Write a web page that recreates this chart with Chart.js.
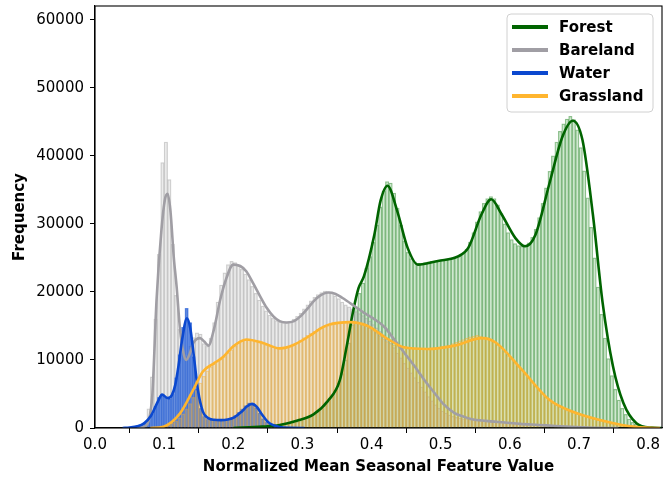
<!DOCTYPE html>
<html>
<head>
<meta charset="utf-8">
<script src="https://cdn.jsdelivr.net/npm/chart.js@4.4.1/dist/chart.umd.min.js"></script>
<style>
  body { margin: 0; background: #fff; }
  canvas { display: block; }
</style>
</head>
<body>
<canvas id="myHistChart" width="672" height="481"></canvas>
<script>
// histogram bins (counts per bin), bin width shared by all classes
const binWidth = 0.005

const waterStart = 0.04
const waterHist = [20, 50, 100, 180, 300, 500, 800, 1300, 2100, 3200, 4500, 5000, 4500, 4300, 5000, 7400, 10800, 14800, 17600, 15500,
    10500, 5800, 2900, 1700, 1300, 1200, 1150, 1150, 1200, 1250, 1350, 1550, 1850, 2300, 2800, 3300, 3700, 3600, 3000, 2200,
    1400, 900, 550, 300, 180, 100, 60, 30, 20, 10, 5, 0]

const barelandStart = 0.06
const barelandHist = [50, 200, 700, 2800, 7500, 16000, 25500, 39000, 42000, 36500, 27000, 19500, 14500, 11000, 10500, 12000, 13300, 14000, 13800, 12400,
    12000, 13200, 15500, 18500, 21000, 22800, 24000, 24500, 24300, 23800, 23300, 22600, 21800, 20800, 19800, 18800, 17900, 17200, 16600, 16100,
    15800, 15600, 15500, 15500, 15700, 16000, 16400, 16900, 17500, 18100, 18700, 19200, 19600, 19900, 20100, 20000, 19800, 19400, 19000, 18500,
    18100, 17800, 17500, 17100, 16800, 16500, 16100, 15700, 15200, 14700, 14200, 13700, 13100, 12500, 11800, 11000, 10300, 9500, 8800, 8100,
    7400, 6700, 6000, 5300, 4600, 4000, 3400, 2900, 2500, 2200, 1900, 1700, 1550, 1450, 1350, 1300, 1250, 1200, 1150, 1100,
    1050, 1000, 950, 900, 860, 820, 780, 740, 700, 660, 620, 580, 540, 500, 470, 440, 410, 380, 350, 320,
    290, 260, 230, 200, 170, 140, 110, 90, 70, 50, 40, 30, 20, 10, 5, 0]

const forestStart = 0.205
const forestHist = [50, 60, 70, 80, 100, 120, 140, 170, 200, 240, 280, 330, 400, 480, 570, 680, 800, 950, 1100, 1300,
    1550, 1800, 2100, 2450, 2850, 3300, 3900, 4600, 5500, 6600, 8000, 10000, 12500, 15200, 17800, 19800, 21300, 23500, 25200, 27300,
    29800, 32500, 34800, 36200, 36000, 34500, 32300, 29800, 27500, 25800, 24900, 24400, 24200, 24200, 24300, 24400, 24500, 24500, 24600, 24700,
    24800, 24900, 25000, 25100, 25300, 25700, 26300, 27300, 28700, 30300, 31800, 33000, 33700, 34000, 33700, 32800, 31500, 30000, 28700, 27700,
    27100, 26800, 26700, 26800, 27200, 28000, 29200, 30900, 33000, 35300, 37700, 40000, 42000, 43600, 44700, 45400, 45800, 45300, 43800, 41200,
    37800, 33800, 29500, 25000, 20700, 16700, 13200, 10200, 7700, 5700, 4100, 2900, 2000, 1300, 850, 550, 350, 220, 140, 90,
    60, 40, 20]

const grassStart = 0.085
const grassHist = [20, 50, 100, 250, 450, 700, 1000, 1500, 2100, 2800, 3600, 4500, 5500, 6600, 7600, 8400, 9000, 9400, 9800, 10100,
    10500, 11000, 11500, 12000, 12500, 12800, 13000, 13000, 12900, 12800, 12600, 12400, 12200, 12000, 11900, 11800, 11700, 11700, 11800, 12000,
    12200, 12500, 12900, 13300, 13600, 13900, 14200, 14500, 14700, 14900, 15000, 15200, 15300, 15400, 15500, 15600, 15700, 15700, 15600, 15400,
    15200, 15000, 14700, 14300, 13900, 13500, 13100, 12700, 12400, 12200, 12000, 11900, 11800, 11700, 11700, 11700, 11700, 11700, 11700, 11700,
    11800, 11800, 11900, 12000, 12100, 12200, 12400, 12600, 12800, 13000, 13200, 13400, 13500, 13600, 13500, 13400, 13300, 13000, 12600, 12200,
    11700, 11150, 10600, 10100, 9600, 9100, 8550, 7950, 7400, 6800, 6250, 5650, 5100, 4550, 4100, 3700, 3400, 3100, 2850, 2600,
    2400, 2250, 2100, 1950, 1800, 1600, 1450, 1300, 1200, 1050, 900, 750, 600, 480, 360, 260, 180, 110, 60, 30, 10]

// smoothed density curves (x = feature value, y = frequency)
const forestKdeX = [0.20, 0.242, 0.267, 0.293, 0.316, 0.337, 0.354, 0.364, 0.373, 0.381, 0.389, 0.404, 0.413, 0.423, 0.437, 0.452, 0.467, 0.496, 0.525,
    0.540, 0.559, 0.573, 0.588, 0.608, 0.622, 0.637, 0.657, 0.676, 0.691, 0.705, 0.720, 0.734, 0.749, 0.764, 0.783, 0.805, 0.82]
const forestKdeY = [0, 200, 440, 1100, 2000, 4000, 7000, 12000, 17000, 20500, 22300, 28400, 33400, 35600, 31900, 26500, 24000, 24550, 25200,
    26500, 31400, 33600, 31400, 27900, 26700, 28400, 35850, 42800, 45150, 42300, 31400, 18500, 9100, 3700, 700, 50, 0]

const barelandKdeX = [0.06, 0.071, 0.077, 0.083, 0.089, 0.096, 0.101, 0.105, 0.109, 0.114, 0.118, 0.123, 0.128, 0.132, 0.137, 0.142, 0.152, 0.158, 0.164,
    0.172, 0.181, 0.190, 0.200, 0.210, 0.219, 0.229, 0.239, 0.248, 0.258, 0.267, 0.277, 0.288, 0.297, 0.307, 0.316, 0.325, 0.337, 0.348, 0.358,
    0.374, 0.388, 0.404, 0.419, 0.432, 0.447, 0.462, 0.476, 0.491, 0.504, 0.520, 0.535, 0.545, 0.565, 0.593, 0.615, 0.642, 0.666, 0.696, 0.726, 0.757]
const barelandKdeY = [0, 200, 900, 5000, 18800, 29000, 33500, 34400, 32000, 25000, 20800, 14500, 11000, 10000, 10900, 12450, 13200, 12700, 12100,
    14500, 18800, 22000, 24000, 23800, 23000, 21200, 19300, 17700, 16400, 15700, 15500, 15700, 16400, 17500, 18600, 19400, 19900, 19700, 19100,
    18000, 17000, 16000, 14800, 13100, 11100, 9100, 7100, 5150, 3500, 2200, 1600, 1300, 1050, 800, 600, 450, 300, 150, 40, 0]

const waterKdeX = [0.04, 0.05, 0.061, 0.071, 0.081, 0.091, 0.097, 0.105, 0.111, 0.116, 0.121, 0.126, 0.133, 0.138, 0.143, 0.149, 0.156, 0.163,
    0.172, 0.182, 0.192, 0.202, 0.212, 0.220, 0.227, 0.234, 0.242, 0.250, 0.257, 0.267, 0.282, 0.303]
const waterKdeY = [0, 80, 250, 700, 1800, 3900, 4900, 4400, 4800, 6300, 9300, 13000, 16100, 14500, 10500, 5500, 2400, 1500,
    1200, 1150, 1250, 1600, 2400, 3200, 3550, 3100, 1900, 900, 450, 150, 30, 0]

const grassKdeX = [0.08, 0.099, 0.123, 0.142, 0.156, 0.172, 0.186, 0.200, 0.219, 0.243, 0.267, 0.287, 0.316, 0.325, 0.337, 0.369, 0.393, 0.423,
    0.447, 0.481, 0.520, 0.559, 0.579, 0.617, 0.657, 0.696, 0.729, 0.764, 0.797, 0.817]
const grassKdeY = [0, 200, 2150, 5600, 8300, 9500, 10500, 12000, 13000, 12500, 11700, 12200, 13900, 14550, 15150, 15550, 15050, 13100,
    11850, 11600, 12100, 13200, 12600, 8600, 4150, 2200, 1200, 400, 50, 0]

const classNames = ["Forest", "Bareland", "Water", "Grassland"]
const yTicks = [0, 10000, 20000, 30000, 40000, 50000, 60000]
const xTicks = [0, 0.1, 0.2, 0.3, 0.4, 0.5, 0.6, 0.7, 0.8]

function histPoints(start, counts) {
    return counts.map((c, i) => ({ x: Math.round((start + (i + 0.5) * binWidth) * 10000) / 10000, y: c }))
}
function kdePoints(xs, ys) {
    return xs.map((x, i) => ({ x: x, y: ys[i] }))
}

const lineColors = ["#006400", "#a09ea4", "#0b48cf", "#ffb52e"]
const barFill = ["rgba(40,150,40,0.22)", "rgba(175,175,175,0.24)", "rgba(25,85,210,0.70)", "rgba(255,185,50,0.22)"]
const barEdge = ["rgba(20,120,20,0.42)", "rgba(150,150,150,0.42)", "rgba(110,150,230,0.9)", "rgba(245,170,40,0.42)"]

const histData = [
    histPoints(forestStart, forestHist),
    histPoints(barelandStart, barelandHist),
    histPoints(waterStart, waterHist),
    histPoints(grassStart, grassHist),
]
const kdeData = [
    kdePoints(forestKdeX, forestKdeY),
    kdePoints(barelandKdeX, barelandKdeY),
    kdePoints(waterKdeX, waterKdeY),
    kdePoints(grassKdeX, grassKdeY),
]

const datasets = []
classNames.forEach((name, i) => {
    datasets.push({
        type: "line",
        label: name,
        data: kdeData[i],
        borderColor: lineColors[i],
        borderWidth: 2.6,
        pointRadius: 0,
        fill: false,
        cubicInterpolationMode: "monotone",
        order: 4 - i,
    })
})
classNames.forEach((name, i) => {
    datasets.push({
        type: "bar",
        label: name + " hist",
        data: histData[i],
        backgroundColor: barFill[i],
        borderColor: barEdge[i],
        borderWidth: 0.6,
        grouped: false,
        barPercentage: 1,
        categoryPercentage: 1,
        order: 14 - i,
    })
})

// white box legend in the upper right corner, drawn from the line datasets
const boxLegend = {
    id: "boxLegend",
    afterDraw(chart) {
        const ctx = chart.ctx
        const area = chart.chartArea
        const items = chart.data.datasets.filter(d => d.type === "line")
        const rowH = 23, boxW = 146
        const boxH = items.length * rowH + 6
        const bx = area.right - 9 - boxW, by = area.top + 8
        ctx.save()
        ctx.beginPath()
        ctx.roundRect(bx, by, boxW, boxH, 4)
        ctx.fillStyle = "rgba(255,255,255,0.85)"
        ctx.fill()
        ctx.strokeStyle = "#d0d0d0"
        ctx.lineWidth = 1
        ctx.stroke()
        ctx.font = "bold 15px 'DejaVu Sans'"
        ctx.textBaseline = "middle"
        ctx.fillStyle = "#000"
        items.forEach((d, i) => {
            const y = by + 13 + i * rowH
            ctx.beginPath()
            ctx.moveTo(bx + 5, y)
            ctx.lineTo(bx + 41, y)
            ctx.strokeStyle = d.borderColor
            ctx.lineWidth = 4
            ctx.stroke()
            ctx.fillText(d.label, bx + 52, y + 1)
        })
        ctx.restore()
    },
}

// black frame round the plot area
const frame = {
    id: "frame",
    afterDraw(chart) {
        const a = chart.chartArea
        const ctx = chart.ctx
        ctx.save()
        ctx.strokeStyle = "#000"
        ctx.lineWidth = 1.1
        ctx.strokeRect(a.left, a.top, a.right - a.left, a.bottom - a.top)
        ctx.restore()
    },
}

Chart.defaults.font.family = "'DejaVu Sans', sans-serif"
Chart.defaults.color = "#000"

var ctx = document.getElementById("myHistChart").getContext("2d")
const config = {
    type: "bar",
    data: { datasets: datasets },
    options: {
        responsive: false,
        animation: false,
        devicePixelRatio: 1,
        layout: { padding: { top: 6, right: 10, left: 0, bottom: 0 } },
        plugins: {
            legend: { display: false },
            tooltip: { enabled: false },
        },
        scales: {
            x: {
                type: "linear",
                min: 0,
                max: 0.82,
                offset: false,
                afterBuildTicks: s => { s.ticks = xTicks.map(v => ({ value: v })) },
                afterFit: s => { s.height = 53; s.paddingLeft = 0; s.paddingRight = 0 },
                ticks: {
                    font: { size: 15 },
                    padding: 3,
                    maxRotation: 0,
                    callback: v => v.toFixed(1),
                },
                grid: { drawOnChartArea: false, drawTicks: true, tickLength: 5, color: "#000", tickWidth: 1 },
                border: { display: true, color: "#000", width: 1.1 },
                title: {
                    display: true,
                    text: "Normalized Mean Seasonal Feature Value",
                    font: { size: 15, weight: "bold" },
                    padding: { top: 2, bottom: 5 },
                },
            },
            y: {
                min: 0,
                max: 62000,
                afterBuildTicks: s => { s.ticks = yTicks.map(v => ({ value: v })) },
                afterFit: s => { s.width = 95; s.paddingTop = 0; s.paddingBottom = 0 },
                ticks: {
                    font: { size: 15 },
                    padding: 6,
                    callback: v => String(v),
                },
                grid: { drawOnChartArea: false, drawTicks: true, tickLength: 5, color: "#000", tickWidth: 1 },
                border: { display: true, color: "#000", width: 1.1 },
                title: {
                    display: true,
                    text: "Frequency",
                    font: { size: 15, weight: "bold" },
                    padding: { top: 11, bottom: 0 },
                },
            },
        },
    },
    plugins: [boxLegend, frame],
}
var myHistChart = new Chart(ctx, config)
</script>
</body>
</html>
